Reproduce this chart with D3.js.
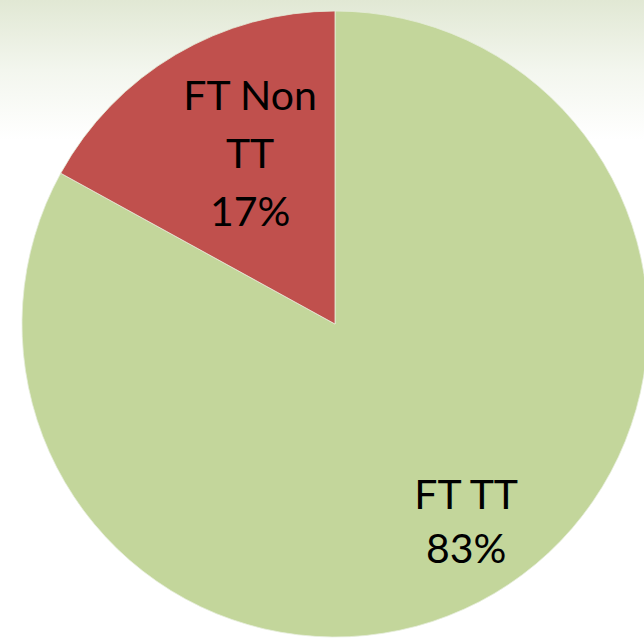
<!DOCTYPE html>
<html>
<head>
<meta charset="utf-8">
<script src="https://cdn.jsdelivr.net/npm/d3@7"></script>
<style>
  html, body { margin: 0; padding: 0; background: #ffffff; }
  svg { display: block; }
</style>
</head>
<body>
<script>
// Data
const categories = ["FT TT", "FT Non TT"];
const values = [83, 17];
const labelLines = [["FT TT", "83%"], ["FT Non", "TT", "17%"]];
const colors = ["#c3d69b", "#c0504d"];

const W = 644, H = 638;
const cx = 335, cy = 324, R = 313;

const svg = d3.select("body").append("svg")
  .attr("width", W).attr("height", H);

const defs = svg.append("defs");
const grad = defs.append("linearGradient")
  .attr("id", "bg").attr("x1", 0).attr("y1", 0).attr("x2", 0).attr("y2", 1);
grad.append("stop").attr("offset", "0%").attr("stop-color", "#e1e8d4");
grad.append("stop").attr("offset", "50%").attr("stop-color", "#f3f6ee");
grad.append("stop").attr("offset", "100%").attr("stop-color", "#ffffff");
svg.append("rect").attr("x", 0).attr("y", 0).attr("width", W).attr("height", 140)
  .attr("fill", "url(#bg)");

const pie = d3.pie().sort(null).value(d => d.value);
const data = categories.map((c, i) => ({ name: c, value: values[i], lines: labelLines[i], color: colors[i] }));
const arcs = pie(data);

const arc = d3.arc().innerRadius(0).outerRadius(R);

const g = svg.append("g").attr("transform", `translate(${cx},${cy})`);

g.selectAll("path.slice")
  .data(arcs)
  .join("path")
  .attr("class", "slice")
  .attr("d", arc)
  .attr("fill", d => d.data.color)
  .attr("stroke", "#e6eedb")
  .attr("stroke-width", 0.8);

// label placement (angle offset in degrees from mid-angle, radius fraction)
const labelLayout = [
  { dAngle: -3, rFrac: 0.757, lineH: 54 },
  { dAngle: 4.2, rFrac: 0.61, lineH: 58 }
];

const fontSize = 41;
const labels = g.selectAll("g.label")
  .data(arcs)
  .join("g")
  .attr("class", "label")
  .attr("transform", (d, i) => {
    const mid = (d.startAngle + d.endAngle) / 2 + labelLayout[i].dAngle * Math.PI / 180;
    const [x, y] = d3.pointRadial(mid, R * labelLayout[i].rFrac);
    return `translate(${x},${y})`;
  });

labels.each(function(d, i) {
  const lines = d.data.lines;
  const lh = labelLayout[i].lineH;
  const n = lines.length;
  d3.select(this).selectAll("text")
    .data(lines)
    .join("text")
    .attr("x", 0)
    .attr("y", (t, k) => (k - (n - 1) / 2) * lh)
    .attr("dy", "0.36em")
    .attr("text-anchor", "middle")
    .attr("font-family", "Lato, 'Open Sans', sans-serif")
    .attr("font-size", fontSize)
    .attr("fill", "#000000")
    .text(t => t);
});
</script>
</body>
</html>
